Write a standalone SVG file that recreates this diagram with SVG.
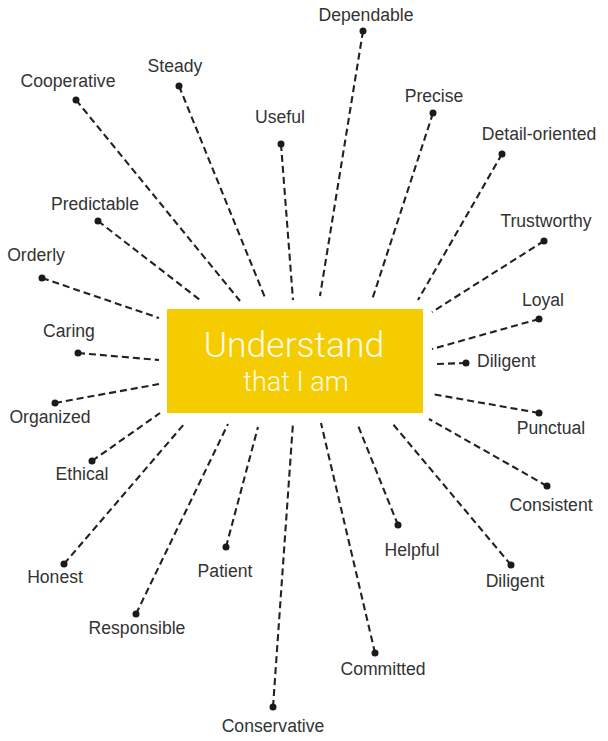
<svg xmlns="http://www.w3.org/2000/svg" width="608" height="741" viewBox="0 0 608 741">
  <style>
    .lbl { font-family: "Liberation Sans", Arial, sans-serif; font-size: 17.6px; fill: #333333; text-anchor: middle; }
    .spoke { stroke: #222222; stroke-width: 2.1; stroke-dasharray: 7 4; fill: none; }
    .dot { fill: #1a1a1a; }
    .hub-text { font-family: "Roboto", "Open Sans", sans-serif; font-weight: 300; fill: #fffbe8; text-anchor: middle; }
  </style>

  <!-- central box -->
  <g id="hub">
    <rect x="167" y="309" width="256" height="104" fill="#f5cc00"/>
    <text class="hub-text" x="294" y="357" font-size="35.5">Understand</text>
    <text class="hub-text" x="296" y="391" font-size="27">that I am</text>
  </g>

  <!-- dashed spokes from each word dot to the box -->
  <g id="connectors">
    <line class="spoke" x1="363" y1="31" x2="320" y2="296"/>
    <line class="spoke" x1="179" y1="86" x2="266" y2="300"/>
    <line class="spoke" x1="76" y1="100" x2="240" y2="301"/>
    <line class="spoke" x1="281" y1="144" x2="293" y2="300"/>
    <line class="spoke" x1="433" y1="113" x2="372" y2="300"/>
    <line class="spoke" x1="502" y1="154" x2="418" y2="300"/>
    <line class="spoke" x1="98" y1="221" x2="200" y2="300"/>
    <line class="spoke" x1="544" y1="241" x2="432" y2="312"/>
    <line class="spoke" x1="42" y1="278" x2="159" y2="318"/>
    <line class="spoke" x1="539" y1="319" x2="432" y2="349"/>
    <line class="spoke" x1="78" y1="353" x2="159" y2="360"/>
    <line class="spoke" x1="466" y1="363" x2="435" y2="364"/>
    <line class="spoke" x1="55" y1="403" x2="159" y2="384"/>
    <line class="spoke" x1="539" y1="413" x2="432" y2="394"/>
    <line class="spoke" x1="92" y1="461" x2="160" y2="413"/>
    <line class="spoke" x1="547" y1="486" x2="429" y2="419"/>
    <line class="spoke" x1="398" y1="525" x2="357" y2="423"/>
    <line class="spoke" x1="64" y1="564" x2="185" y2="423"/>
    <line class="spoke" x1="226" y1="547" x2="258" y2="427"/>
    <line class="spoke" x1="511" y1="565" x2="392" y2="423"/>
    <line class="spoke" x1="136" y1="614" x2="228" y2="424"/>
    <line class="spoke" x1="375" y1="653" x2="321" y2="423"/>
    <line class="spoke" x1="273" y1="707" x2="293" y2="423"/>
  </g>

  <g id="dependable"><circle class="dot" cx="363" cy="31" r="3.5"/><text class="lbl" x="366" y="21">Dependable</text></g>
  <g id="steady"><circle class="dot" cx="179" cy="86" r="3.5"/><text class="lbl" x="175" y="72">Steady</text></g>
  <g id="cooperative"><circle class="dot" cx="76" cy="100" r="3.5"/><text class="lbl" x="68" y="87">Cooperative</text></g>
  <g id="useful"><circle class="dot" cx="281" cy="144" r="3.5"/><text class="lbl" x="280" y="123">Useful</text></g>
  <g id="precise"><circle class="dot" cx="433" cy="113" r="3.5"/><text class="lbl" x="434" y="102">Precise</text></g>
  <g id="detail-oriented"><circle class="dot" cx="502" cy="154" r="3.5"/><text class="lbl" x="539" y="140">Detail-oriented</text></g>
  <g id="predictable"><circle class="dot" cx="98" cy="221" r="3.5"/><text class="lbl" x="95" y="210">Predictable</text></g>
  <g id="trustworthy"><circle class="dot" cx="544" cy="241" r="3.5"/><text class="lbl" x="546" y="227">Trustworthy</text></g>
  <g id="orderly"><circle class="dot" cx="42" cy="278" r="3.5"/><text class="lbl" x="36" y="261">Orderly</text></g>
  <g id="loyal"><circle class="dot" cx="539" cy="319" r="3.5"/><text class="lbl" x="543" y="306">Loyal</text></g>
  <g id="caring"><circle class="dot" cx="78" cy="353" r="3.5"/><text class="lbl" x="69" y="337">Caring</text></g>
  <g id="diligent-right"><circle class="dot" cx="466" cy="363" r="3.5"/><text class="lbl" x="477" y="367" style="text-anchor:start">Diligent</text></g>
  <g id="organized"><circle class="dot" cx="55" cy="403" r="3.5"/><text class="lbl" x="50" y="423">Organized</text></g>
  <g id="punctual"><circle class="dot" cx="539" cy="413" r="3.5"/><text class="lbl" x="551" y="434">Punctual</text></g>
  <g id="ethical"><circle class="dot" cx="92" cy="461" r="3.5"/><text class="lbl" x="82" y="480">Ethical</text></g>
  <g id="consistent"><circle class="dot" cx="547" cy="486" r="3.5"/><text class="lbl" x="551" y="511">Consistent</text></g>
  <g id="helpful"><circle class="dot" cx="398" cy="525" r="3.5"/><text class="lbl" x="412" y="556">Helpful</text></g>
  <g id="honest"><circle class="dot" cx="64" cy="564" r="3.5"/><text class="lbl" x="55" y="583">Honest</text></g>
  <g id="patient"><circle class="dot" cx="226" cy="547" r="3.5"/><text class="lbl" x="225" y="577">Patient</text></g>
  <g id="diligent-bottom"><circle class="dot" cx="511" cy="565" r="3.5"/><text class="lbl" x="515" y="587">Diligent</text></g>
  <g id="responsible"><circle class="dot" cx="136" cy="614" r="3.5"/><text class="lbl" x="137" y="634">Responsible</text></g>
  <g id="committed"><circle class="dot" cx="375" cy="653" r="3.5"/><text class="lbl" x="383" y="675">Committed</text></g>
  <g id="conservative"><circle class="dot" cx="273" cy="707" r="3.5"/><text class="lbl" x="273" y="732">Conservative</text></g>
</svg>
